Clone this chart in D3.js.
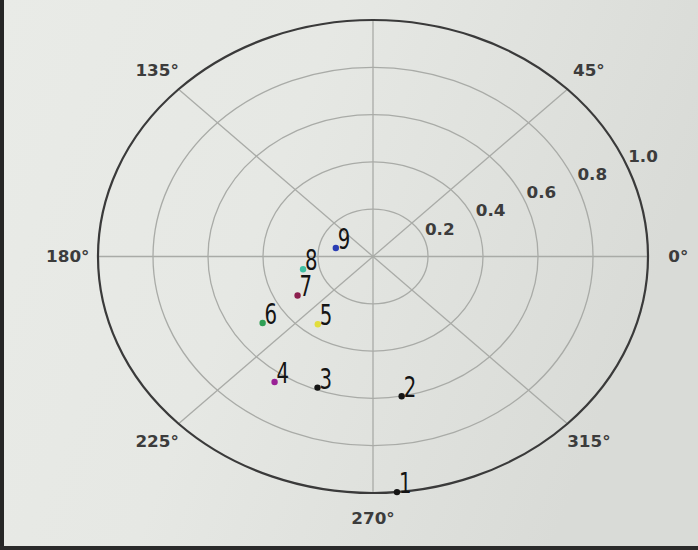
<!DOCTYPE html>
<html>
<head>
<meta charset="utf-8">
<script src="https://cdn.jsdelivr.net/npm/d3@7"></script>
<style>
  html, body { margin: 0; padding: 0; background: #e2e4e0; }
  svg { display: block; }
</style>
</head>
<body>
<svg id="chart" width="698" height="550"></svg>
<script>
// Marker labels, angles (degrees) and radii for each plotted point
const labels = ["1", "2", "3", "4", "5", "6", "7", "8", "9"];
const thetaDeg = [275, 280, 250, 236, 235, 215, 211, 192, 165];
const radius = [1.0, 0.60, 0.59, 0.64, 0.35, 0.49, 0.32, 0.26, 0.14];
const dotColors = ["#151515", "#151515", "#151515", "#9a2296", "#e2de3c", "#2f9f55", "#8c1f4e", "#3fbfa2", "#2a3db4"];

// Radial ring ticks, spoke angles and the angle labels that fall inside the view
const rTicks = [0.2, 0.4, 0.6, 0.8, 1.0];
const rTickLabels = ["0.2", "0.4", "0.6", "0.8", "1.0"];
const spokeAngles = [0, 45, 90, 135, 180, 225, 270, 315];
const angleLabelTicks = [0, 45, 135, 180, 225, 270, 315];
const angleTickLabels = ["0°", "45°", "135°", "180°", "225°", "270°", "315°"];

const W = 698, H = 550;
const cx = 373, cy = 256.5;
const svg = d3.select("#chart");

// Background with a soft left-to-right falloff
const defs = svg.append("defs");
const grad = defs.append("linearGradient").attr("id", "bg").attr("x1", 0).attr("x2", 1).attr("y1", 0).attr("y2", 0.3);
grad.append("stop").attr("offset", "0%").attr("stop-color", "#e9ebe7");
grad.append("stop").attr("offset", "45%").attr("stop-color", "#e6e8e4");
grad.append("stop").attr("offset", "100%").attr("stop-color", "#d9dbd7");
svg.append("rect").attr("width", W).attr("height", H).attr("fill", "url(#bg)");
svg.append("rect").attr("x", 0).attr("y", 0).attr("width", 4).attr("height", H).attr("fill", "#262626");
svg.append("rect").attr("x", 0).attr("y", 546).attr("width", W).attr("height", 4).attr("fill", "#2a2a2a");

// Separate horizontal and vertical radius scales (the axes are drawn as ellipses)
const rX = d3.scaleLinear().domain([0, 1]).range([0, 275]);
const rY = d3.scaleLinear().domain([0, 1]).range([0, 236.5]);
const rad = d => d * Math.PI / 180;
const px = (t, r) => cx + rX(r) * Math.cos(rad(t));
const py = (t, r) => cy - rY(r) * Math.sin(rad(t));

const g = svg.append("g");

// Inner rings
g.selectAll("ellipse.ring")
  .data(rTicks.filter(t => t < 1))
  .join("ellipse")
  .attr("class", "ring")
  .attr("cx", cx).attr("cy", cy)
  .attr("rx", d => rX(d)).attr("ry", d => rY(d))
  .attr("fill", "none").attr("stroke", "#a9aba7").attr("stroke-width", 1.3);

// Spokes
g.selectAll("line.spoke")
  .data(spokeAngles)
  .join("line")
  .attr("class", "spoke")
  .attr("x1", cx).attr("y1", cy)
  .attr("x2", d => px(d, 1)).attr("y2", d => py(d, 1))
  .attr("stroke", "#a9aba7").attr("stroke-width", 1.3);

// Outer frame
g.append("ellipse")
  .attr("cx", cx).attr("cy", cy)
  .attr("rx", rX(1)).attr("ry", rY(1))
  .attr("fill", "none").attr("stroke", "#3a3a3a").attr("stroke-width", 2.2);

// Angle labels
g.selectAll("text.ang")
  .data(angleLabelTicks)
  .join("text")
  .attr("class", "ang")
  .attr("transform", d => `translate(${px(d, 1.11)},${py(d, 1.11)}) scale(1.12,1)`)
  .attr("text-anchor", "middle")
  .attr("dominant-baseline", "central")
  .attr("font-family", "DejaVu Sans, sans-serif")
  .attr("font-size", 15)
  .attr("font-weight", 600)
  .attr("fill", "#3c3c3c")
  .text((d, i) => angleTickLabels[i]);

// Radial tick labels along 22.5°
g.selectAll("text.rlab")
  .data(rTicks)
  .join("text")
  .attr("class", "rlab")
  .attr("transform", d => `translate(${px(22.5, d) + 16},${py(22.5, d) - 9}) scale(1.12,1)`)
  .attr("text-anchor", "middle")
  .attr("dominant-baseline", "central")
  .attr("font-family", "DejaVu Sans, sans-serif")
  .attr("font-size", 15)
  .attr("font-weight", 600)
  .attr("fill", "#3c3c3c")
  .text((d, i) => rTickLabels[i]);

// Points with their numeric labels
const pts = labels.map((l, i) => ({ label: l, t: thetaDeg[i], r: radius[i], c: dotColors[i] }));

g.selectAll("circle.pt")
  .data(pts)
  .join("circle")
  .attr("class", "pt")
  .attr("cx", d => px(d.t, d.r)).attr("cy", d => py(d.t, d.r))
  .attr("r", 3.2)
  .attr("fill", d => d.c);

g.selectAll("text.ptlab")
  .data(pts)
  .join("text")
  .attr("class", "ptlab")
  .attr("transform", d => `translate(${px(d.t, d.r) + 2},${py(d.t, d.r) + 1}) scale(0.68,1)`)
  .attr("font-family", "DejaVu Sans, sans-serif")
  .attr("font-size", 29)
  .attr("fill", "#141414")
  .text(d => d.label);
</script>
</body>
</html>
